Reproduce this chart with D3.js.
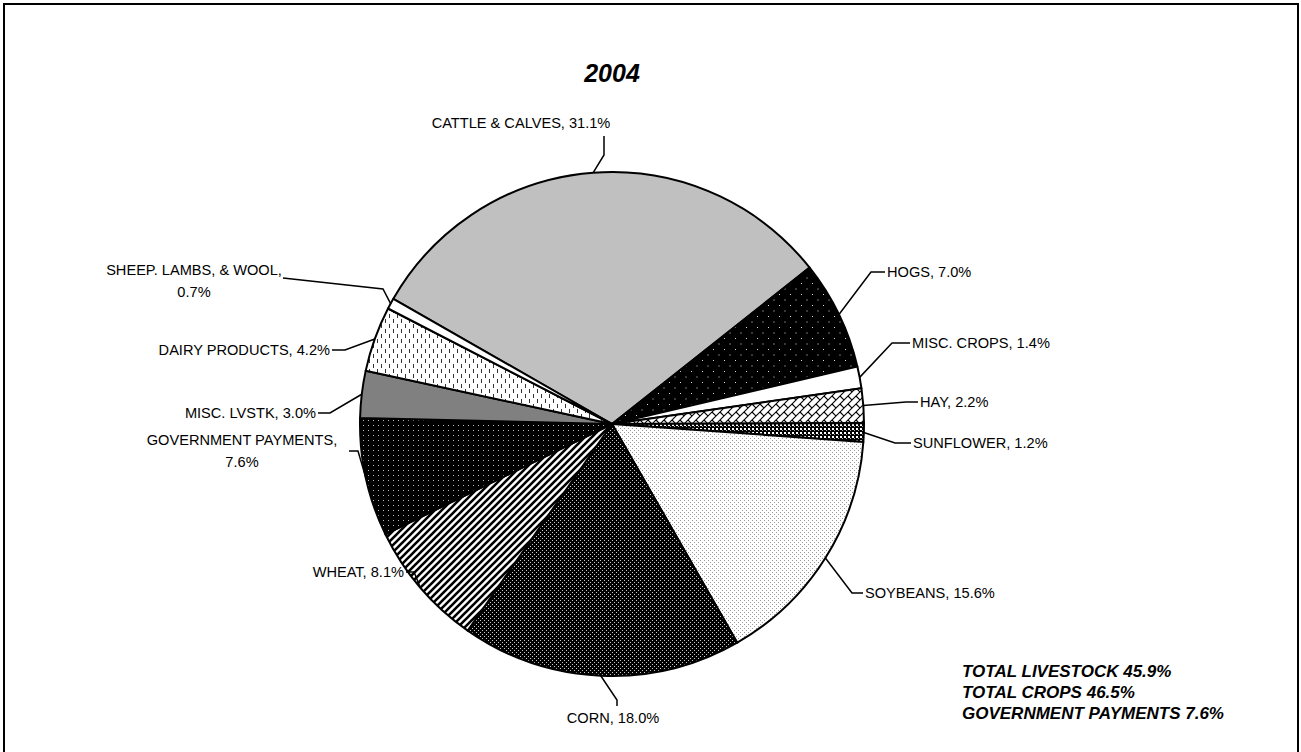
<!DOCTYPE html>
<html><head><meta charset="utf-8">
<script src="https://cdn.jsdelivr.net/npm/d3@7"></script>
<style>html,body{margin:0;padding:0;background:#fff;}svg{display:block;}</style>
</head><body>
<svg id="chart" width="1301" height="752"></svg>
<script>
const title = "2004";
const categories = ["CATTLE & CALVES","HOGS","MISC. CROPS","HAY","SUNFLOWER","SOYBEANS","CORN","WHEAT","GOVERNMENT PAYMENTS","MISC. LVSTK","DAIRY PRODUCTS","SHEEP. LAMBS, & WOOL"];
const values = [31.1,7.0,1.4,2.2,1.2,15.6,18.0,8.1,7.6,3.0,4.2,0.7];
const totals = ["TOTAL LIVESTOCK 45.9%","TOTAL CROPS 46.5%","GOVERNMENT PAYMENTS 7.6%"];

const fills = ["#c0c0c0","url(#pHogs)","#ffffff","url(#pHay)","url(#pSun)","url(#pSoy)","url(#pCorn)","url(#pWheat)","url(#pGov)","#808080","url(#pDairy)","#ffffff"];
const layout = [
  {br:false, x:521, y:128, anchor:"middle", elbow:[604,155], end:[604,136]},
  {br:false, x:887, y:277, anchor:"start", elbow:[871,272], end:[885,272]},
  {br:false, x:912, y:348, anchor:"start", elbow:[892,343], end:[910,343]},
  {br:false, x:920, y:407, anchor:"start", elbow:[906,402], end:[918,402]},
  {br:false, x:913, y:448, anchor:"start", elbow:[895,443], end:[911,443]},
  {br:false, x:865, y:598, anchor:"start", elbow:[852,593], end:[863,593]},
  {br:false, x:613, y:723, anchor:"middle", elbow:[617,700], end:[617,706]},
  {br:false, x:404, y:577, anchor:"end", elbow:[414,572], end:[406,572]},
  {br:true, x:242, y:445, anchor:"middle", elbow:[358,451], end:[349,451]},
  {br:false, x:316, y:418, anchor:"end", elbow:[330,413], end:[318,413]},
  {br:false, x:330, y:355, anchor:"end", elbow:[345,350], end:[332,350]},
  {br:true, x:194, y:275, anchor:"middle", elbow:[383,289], end:[283,278]}
];

const svg = d3.select("#chart");
const defs = svg.append("defs");
function pat(id,w,h){return defs.append("pattern").attr("id",id).attr("patternUnits","userSpaceOnUse").attr("width",w).attr("height",h);}
let p = pat("pHogs",11,11);
p.append("rect").attr("width",11).attr("height",11).attr("fill","#000");
p.append("rect").attr("x",2).attr("y",2).attr("width",1).attr("height",1).attr("fill","#ddd");
p.append("rect").attr("x",7.5).attr("y",7.5).attr("width",1).attr("height",1).attr("fill","#ddd");
p = pat("pHay",8,8);
p.append("rect").attr("width",8).attr("height",8).attr("fill","#fff");
p.append("path").attr("d","M0,8L8,0M-2,2L2,-2M6,10L10,6M4,4L8,8").attr("stroke","#000").attr("stroke-width",1.1);
p = pat("pSun",4,4);
p.append("rect").attr("width",4).attr("height",4).attr("fill","#000");
p.append("rect").attr("x",0).attr("y",0).attr("width",2).attr("height",2).attr("fill","#fff");
p.append("rect").attr("x",2).attr("y",2).attr("width",1).attr("height",1).attr("fill","#aaa");
p = pat("pSoy",4,4);
p.append("rect").attr("width",4).attr("height",4).attr("fill","#fff");
p.append("rect").attr("x",0).attr("y",0).attr("width",1).attr("height",1).attr("fill","#999");
p.append("rect").attr("x",2).attr("y",2).attr("width",1).attr("height",1).attr("fill","#999");
p = pat("pCorn",4,4);
p.append("rect").attr("width",4).attr("height",4).attr("fill","#000");
p.append("rect").attr("x",0).attr("y",0).attr("width",1).attr("height",1).attr("fill","#ccc");
p.append("rect").attr("x",2).attr("y",2).attr("width",1).attr("height",1).attr("fill","#ccc");
p = pat("pWheat",7,7);
p.append("rect").attr("width",7).attr("height",7).attr("fill","#fff");
p.append("path").attr("d","M0,7L7,0M-2,2L2,-2M5,9L9,5").attr("stroke","#000").attr("stroke-width",2.6);
p = pat("pGov",5,5);
p.append("rect").attr("width",5).attr("height",5).attr("fill","#000");
p.append("rect").attr("x",1).attr("y",1).attr("width",1).attr("height",1).attr("fill","#bbb");
p = pat("pDairy",8,10);
p.append("rect").attr("width",8).attr("height",10).attr("fill","#fff");
p.append("rect").attr("x",1).attr("y",0).attr("width",1).attr("height",4).attr("fill","#333");
p.append("rect").attr("x",5).attr("y",5).attr("width",1).attr("height",4).attr("fill","#333");

svg.append("rect").attr("x",4).attr("y",4).attr("width",1294).attr("height",780).attr("fill","none").attr("stroke","#000").attr("stroke-width",2);

const font = "'Liberation Sans', Arial, sans-serif";
svg.append("text").attr("x",612).attr("y",82).attr("text-anchor","middle")
  .style("font-family",font).style("font-size","25px").style("font-weight","bold").style("font-style","italic").text(title);

const cx = 612, cy = 424, R = 252;
const start = -60.2 * Math.PI/180;
const pie = d3.pie().sort(null).value(d=>d).startAngle(start).endAngle(start+2*Math.PI);
const arcs = pie(values);
const arc = d3.arc().innerRadius(0).outerRadius(R);
const g = svg.append("g").attr("transform",`translate(${cx},${cy})`);
g.selectAll("path.slice").data(arcs).join("path").attr("class","slice")
  .attr("d",arc).attr("fill",(d,i)=>fills[i]).attr("stroke","#000").attr("stroke-width",2).attr("stroke-linejoin","round");

arcs.forEach((a,i)=>{
  const L = layout[i];
  const mid = (a.startAngle+a.endAngle)/2;
  const px = cx + R*Math.sin(mid), py = cy - R*Math.cos(mid);
  svg.append("polyline").attr("points",[[px,py],L.elbow,L.end].map(q=>q.join(",")).join(" "))
    .attr("fill","none").attr("stroke","#000").attr("stroke-width",1.5);
  const t = svg.append("text").attr("x",L.x).attr("y",L.y).attr("text-anchor",L.anchor)
    .style("font-family",font).style("font-size","14.6px");
  if (L.br) {
    t.append("tspan").attr("x",L.x).attr("dy",0).text(categories[i] + ",");
    t.append("tspan").attr("x",L.x).attr("dy",22).text(values[i].toFixed(1) + "%");
  } else t.text(categories[i] + ", " + values[i].toFixed(1) + "%");
});

totals.forEach((s,i)=>{
  svg.append("text").attr("x",962).attr("y",677+i*21)
    .style("font-family",font).style("font-size","17px").style("font-weight","bold").style("font-style","italic").text(s);
});
</script>
</body></html>
